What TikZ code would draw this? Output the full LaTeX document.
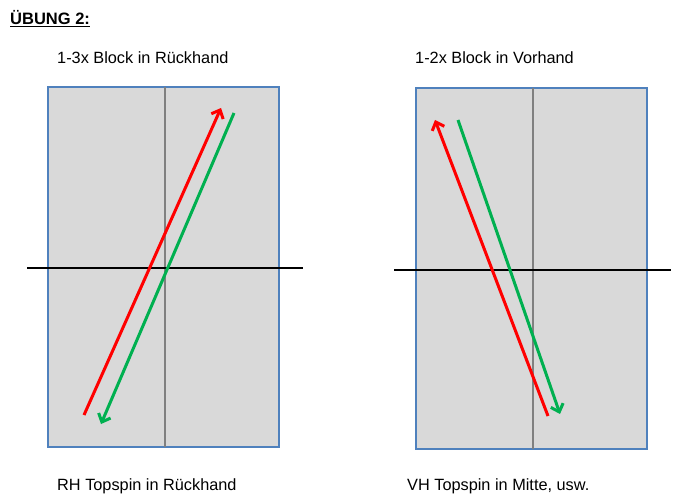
\documentclass[tikz,border=0pt]{standalone}
\usepackage{fontspec}
\setmainfont{Liberation Sans}
\usetikzlibrary{arrows.meta}
\definecolor{tablegray}{HTML}{D9D9D9}
\definecolor{tableblue}{HTML}{4F81BD}
\definecolor{ballred}{HTML}{FF0000}
\definecolor{ballgreen}{HTML}{00B050}
\begin{document}
\begin{tikzpicture}[x=1pt,y=-1pt,
  tablebox/.style={fill=tablegray,draw=tableblue,line width=1.3pt},
  midline/.style={draw=gray,line width=2pt},
  netline/.style={draw=black,line width=2pt},
  redpath/.style={draw=ballred,line width=3pt},
  greenpath/.style={draw=ballgreen,line width=3pt},
  barb/.style={-{Straight Barb[length=7pt,width=13pt,line width=3pt]}},
  lbl/.style={anchor=west,inner sep=0pt,font=\fontsize{16.3}{18}\selectfont}]
\useasboundingbox (0,0) rectangle (675,500);
% title
\node[lbl,font=\fontsize{16.5}{18}\selectfont\bfseries] (title) at (10,19) {\underline{ÜBUNG 2:}};
% left table
\path[tablebox] (48,87) rectangle (279,447);
\coordinate (lmt) at (164.5,87); \coordinate (lmb) at (164.5,447);
\draw[midline] (lmt) -- (lmb);
\coordinate (lnl) at (27,268); \coordinate (lnr) at (303,268);
\draw[netline] (lnl) -- (lnr);
\coordinate (lr1) at (84,415); \coordinate (lr2) at (221,108);
\coordinate (lg1) at (234,113); \coordinate (lg2) at (101,424);
\draw[redpath,barb] (lr1) -- (lr2);
\draw[greenpath,barb] (lg1) -- (lg2);
% right table
\path[tablebox] (416,88) rectangle (647,449);
\coordinate (rmt) at (533,88); \coordinate (rmb) at (533,449);
\draw[midline] (rmt) -- (rmb);
\coordinate (rnl) at (394,270); \coordinate (rnr) at (671,270);
\draw[netline] (rnl) -- (rnr);
\coordinate (rr1) at (548,416); \coordinate (rr2) at (435,120);
\coordinate (rg1) at (458,120); \coordinate (rg2) at (560,414);
\draw[redpath,barb] (rr1) -- (rr2);
\draw[greenpath,barb] (rg1) -- (rg2);
% labels
\node[lbl] (ltop) at (57,58) {1-3x Block in Rückhand};
\node[lbl] (rtop) at (415,58) {1-2x Block in Vorhand};
\node[lbl] (lbot) at (57,486) {RH Topspin in Rückhand};
\node[lbl] (rbot) at (407,486) {VH Topspin in Mitte, usw.};
\end{tikzpicture}
\end{document}
